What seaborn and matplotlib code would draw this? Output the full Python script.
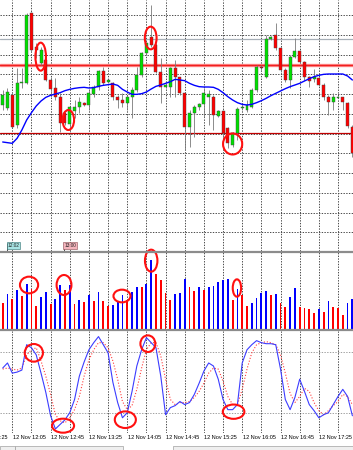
import numpy as np
import pandas as pd
import matplotlib
matplotlib.use("Agg")
import matplotlib.pyplot as plt
import seaborn as sns
from matplotlib.patches import Ellipse, Rectangle
from matplotlib.lines import Line2D
from matplotlib import font_manager

# ---------------- data (5-minute bars, 12 Nov) ----------------
opens = [185, 175, 215, 125, 250, 250, 460, 360, 310, 320, 260, 235, 210, 160, 128, 168, 180, 190, 185, 218,
         238, 288, 255, 250, 210, 200, 190, 210, 230, 275, 340, 390, 365, 285, 238, 240, 295, 268, 220, 118,
         160, 178, 188, 210, 210, 153, 167, 117, 65, 100, 175, 170, 180, 230, 300, 270, 382, 395, 355, 290,
         260, 328, 348, 315, 268, 262, 267, 245, 210, 195, 207, 210, 192, 120]
highs = [230, 235, 220, 295, 295, 460, 465, 372, 360, 330, 268, 265, 220, 165, 182, 200, 210, 195, 230, 245,
         290, 300, 262, 255, 215, 220, 215, 240, 300, 345, 375, 485, 370, 325, 250, 300, 320, 270, 225, 170,
         185, 190, 235, 230, 215, 170, 170, 120, 105, 180, 190, 200, 235, 305, 305, 395, 392, 432, 360, 295,
         335, 385, 350, 317, 272, 292, 270, 250, 215, 220, 212, 210, 195, 125]
lows = [170, 170, 115, 115, 235, 248, 345, 325, 305, 258, 210, 200, 105, 125, 105, 145, 160, 182, 170, 210,
        230, 245, 250, 200, 175, 180, 170, 145, 225, 270, 335, 360, 282, 190, 235, 210, 210, 215, 50, 60,
        90, 170, 150, 125, 110, 150, 60, 55, 60, 80, 170, 165, 175, 225, 290, 265, 380, 350, 285, 255,
        235, 325, 310, 260, 240, 255, 242, 200, 155, 170, 205, 170, 115, 30]
closes = [215, 225, 120, 252, 255, 455, 350, 350, 350, 260, 232, 210, 130, 130, 178, 180, 195, 184, 220, 238,
          288, 250, 260, 210, 200, 190, 210, 230, 275, 340, 370, 365, 285, 240, 244, 295, 270, 220, 120, 160,
          180, 188, 220, 218, 155, 167, 100, 70, 100, 173, 180, 185, 230, 300, 295, 382, 388, 355, 290, 260,
          328, 347, 315, 270, 258, 268, 245, 210, 195, 210, 210, 195, 122, 40]
moving_avg = [74, 72, 70, 85, 110, 140, 162, 182, 197, 208, 214, 218, 222, 228, 232, 235, 237, 238, 236, 237,
              241, 244, 246, 248, 244, 232, 224, 217, 217, 219, 224, 233, 241, 245, 250, 255, 262, 260, 258, 250,
              244, 240, 239, 239, 238, 232, 222, 210, 200, 192, 187, 185, 187, 192, 198, 205, 213, 220, 227, 234,
              240, 245, 250, 257, 264, 270, 274, 277, 278, 278, 278, 278, 272, 260]
volumes = [82, 108, 92, 120, 102, 138, 122, 72, 98, 114, 78, 92, 135, 120, 135, 78, 90, 84, 104, 88,
           114, 88, 72, 75, 88, 104, 90, 114, 130, 128, 138, 210, 168, 150, 112, 90, 108, 110, 152, 128,
           118, 128, 120, 128, 132, 144, 150, 154, 90, 122, 104, 72, 80, 95, 112, 118, 105, 108, 82, 68,
           100, 125, 68, 65, 62, 50, 64, 55, 86, 68, 66, 44, 82, 92]
stoch_k = [64, 69, 59, 60, 62, 87, 84, 77, 59, 40, 17, 4, 8.5, 13, 20, 33, 56, 70, 82, 89,
           95, 87, 79, 50, 30, 15, 20, 41, 66, 82, 94, 89, 84, 56, 18, 25, 27, 31, 28, 30,
           38, 49, 61, 69, 66, 53, 33, 23, 23, 28, 69, 82, 87, 91, 89, 88, 88, 87, 63, 33,
           23, 35, 53, 41, 28, 22, 15, 18, 20, 28, 36, 43, 36, 17]
stoch_d = [63, 64, 63, 62, 64, 77, 82, 84, 71, 56, 38, 18, 12, 10, 15, 23, 36, 56, 72, 82,
           89, 89, 84, 71, 53, 31, 23, 27, 43, 64, 82, 89, 89, 76, 53, 33, 28, 30, 30, 31,
           35, 41, 49, 59, 64, 63, 51, 36, 28, 28, 43, 63, 79, 87, 89, 90, 89, 87, 77, 59,
           39, 30, 36, 44, 41, 30, 22, 18, 22, 27, 31, 38, 36, 28]
level_lines = {"gray": 383, "red": 304, "darkred": 100}
stoch_levels = [20, 80]
tick_bars = [-6, 2, 10, 18, 26, 34, 42, 50, 58, 66]
tick_labels = ["12 Nov 11:25", "12 Nov 12:05", "12 Nov 12:45", "12 Nov 13:25", "12 Nov 14:05",
               "12 Nov 14:45", "12 Nov 15:25", "12 Nov 16:05", "12 Nov 16:45", "12 Nov 17:25"]
flags = [("12:02", 0.96, "#a8e4e4", "#2f6f6f"), ("13:00", 12.8, "#f4b4bc", "#8a4a50")]
# annotation ellipses: (bar, value, width in bars, height in value units)
price_marks = [(7.93, 330, 2.2, 84), (13.7, 140, 2.4, 60), (30.9, 386, 2.45, 68), (48.0, 68, 4.0, 63)]
volume_marks = [(5.5, 135, 3.8, 50), (12.8, 135, 3.1, 60), (24.9, 102, 3.55, 38),
                (31.0, 208, 2.6, 66), (48.9, 126, 1.75, 52)]
stoch_marks = [(6.5, 79, 3.8, 17.4), (12.6, 7.2, 4.6, 13.8), (25.6, 13.1, 4.4, 16.4),
               (30.3, 88, 3.1, 16.4), (48.2, 21, 4.5, 14.1)]

# ---------------- style ----------------
sns.set_style("white")
names = {f.name for f in font_manager.fontManager.ttflist}
if "Liberation Sans Narrow" in names:
    FONT, FS = "Liberation Sans Narrow", 4.6
else:
    FONT, FS = "Liberation Sans", 4.0
plt.rcParams["font.family"] = [FONT, "DejaVu Sans"]

W, H = 353, 450
fig = plt.figure(figsize=(W / 100, H / 100), dpi=100)
fig.patch.set_facecolor("white")


def ax_px(top, bottom):
    a = fig.add_axes([0, 1 - bottom / H, 1, (bottom - top) / H])
    a.set_facecolor("white")
    return a


ax_p = ax_px(0, 251)
ax_v = ax_px(252, 330)
ax_s = ax_px(331, 433)

idx = np.arange(len(opens))
o = np.array(opens, float); c = np.array(closes, float)
hi = np.array(highs, float); lo = np.array(lows, float)
XL = (-0.564, 73.13)
grid_x = np.arange(2, 74, 4)
GRID = dict(color="#4a4a4a", lw=0.7, ls=(0, (1.4, 1.4)), zorder=1)

# ---------------- price panel ----------------
for y in np.arange(455, -260, -59.3):
    ax_p.axhline(y, **GRID)
ax_p.axhline(level_lines["gray"], color="#a8b0b8", lw=0.9, zorder=2)
ax_p.axhline(level_lines["red"], color="#ff9090", lw=2.4, zorder=2)
ax_p.axhline(level_lines["red"], color="#f02020", lw=1.0, zorder=2)
ax_p.axhline(level_lines["darkred"], color="#c00000", lw=0.9, zorder=2)

up = c >= o
ax_p.vlines(idx, lo, hi, color="#7a7a7a", lw=0.6, zorder=3)
ax_p.bar(idx, np.maximum(np.abs(c - o), 3), bottom=np.minimum(o, c), width=0.62,
         color=np.where(up, "#00e000", "#ff0000"), edgecolor="#404040", linewidth=0.3, zorder=4)
sns.lineplot(x=idx, y=moving_avg, ax=ax_p, color="#0000ff", linewidth=1.0, zorder=5)
ax_p.set_ylim(-253, 500)

for txt, xb, fc, ec in flags:
    ax_p.vlines(xb, -253, -230, color="black", lw=0.5, zorder=6)
    ax_p.text(xb + 0.05, -236.5, txt, fontsize=3.4, ha="left", va="center", zorder=7, color="#202020",
              bbox=dict(boxstyle="square,pad=0.2", fc=fc, ec=ec, lw=0.4))

# ---------------- volume panel ----------------
vol = np.array(volumes, float)
vup = np.r_[False, vol[1:] > vol[:-1]]
ax_v.bar(idx, vol, width=0.38, color=np.where(vup, "#0000ff", "#ff0000"), linewidth=0, zorder=3)
ax_v.set_ylim(0, 234)

# ---------------- stochastic panel ----------------
for y in stoch_levels:
    ax_s.axhline(y, color="#a0a0a0", lw=0.7, ls=(0, (1.4, 1.4)), zorder=1)
sns.lineplot(x=idx, y=stoch_d, ax=ax_s, color="#ff3c3c", linewidth=0.8, linestyle=":", zorder=4)
sns.lineplot(x=idx, y=stoch_k, ax=ax_s, color="#3c3cff", linewidth=0.8, zorder=5)
ax_s.set_ylim(0, 100.5)
for pos, lab in zip(tick_bars, tick_labels):
    ax_s.text(pos + 0.12, -0.02, lab, transform=ax_s.get_xaxis_transform(), ha="left", va="top",
              fontsize=FS, color="black", clip_on=False)

# ---------------- common ----------------
for ax in (ax_p, ax_v, ax_s):
    for g in grid_x:
        ax.axvline(g, **GRID)
    ax.set_xlim(*XL)
    ax.set_xticks([]); ax.set_yticks([])
    ax.set_xlabel(""); ax.set_ylabel("")
    for s in ax.spines.values():
        s.set_visible(False)

for ax, marks in ((ax_p, price_marks), (ax_v, volume_marks), (ax_s, stoch_marks)):
    for xb, yv, w, h in marks:
        ax.add_patch(Ellipse((xb, yv), w, h, fill=False, ec="#ff1010", lw=1.5, zorder=8, clip_on=False))

for ypx in (252, 330):
    fig.add_artist(Line2D([0, 1], [1 - ypx / H] * 2, color="#8c8c8c", lw=1.6, transform=fig.transFigure))

for x0, x1 in ((0, 15), (15, 123), (173, 353)):
    fig.add_artist(Rectangle((x0 / W, 0), (x1 - x0) / W, 4 / H, transform=fig.transFigure,
                             fc="#efefef", ec="#a0a0a0", lw=0.5))

fig.savefig("out.png", dpi=100)
